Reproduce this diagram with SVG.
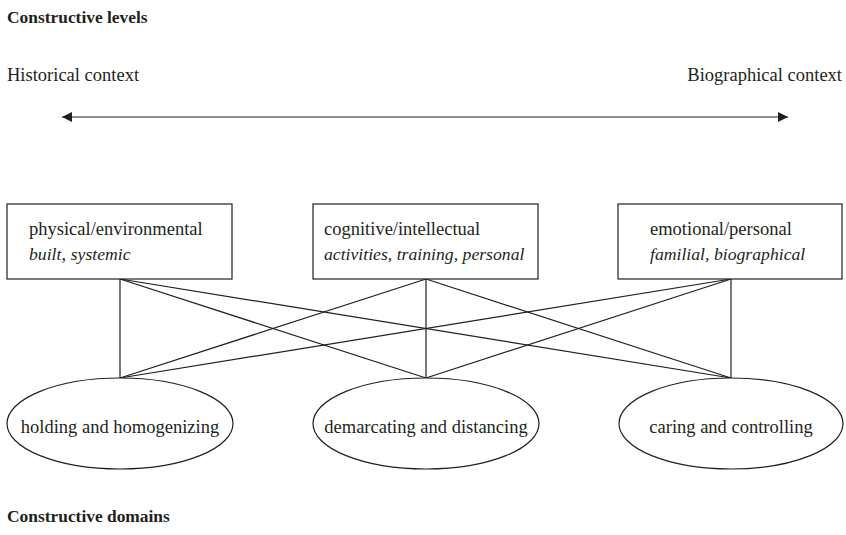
<svg xmlns="http://www.w3.org/2000/svg" width="846" height="535" viewBox="0 0 846 535">
<style>
text{font-family:"Liberation Serif","Times New Roman",serif;fill:#231f20;font-size:18.5px}
.b{font-weight:bold;font-size:17.4px}
.i{font-style:italic;font-size:17.7px}
.m{text-anchor:middle}
.shape{fill:#fff;stroke:#231f20;stroke-width:1.2}
.ln{stroke:#231f20;stroke-width:1.2;fill:none}
</style>
<defs>
<marker id="ah" viewBox="0 0 10 10" refX="10" refY="5" markerWidth="10" markerHeight="10" markerUnits="userSpaceOnUse" orient="auto-start-reverse">
<path d="M0,0 L10,5 L0,10 z" fill="#231f20"/>
</marker>
</defs>
<text class="b" x="7" y="23">Constructive levels</text>
<text x="7" y="81">Historical context</text>
<text x="842" y="81" text-anchor="end">Biographical context</text>
<g id="connectors">
<line class="ln" x1="62" y1="117" x2="788" y2="117" marker-start="url(#ah)" marker-end="url(#ah)"/>
<line class="ln" x1="120" y1="279" x2="120" y2="378"/>
<line class="ln" x1="120" y1="279" x2="426" y2="378"/>
<line class="ln" x1="120" y1="279" x2="731" y2="378"/>
<line class="ln" x1="426" y1="279" x2="120" y2="378"/>
<line class="ln" x1="426" y1="279" x2="426" y2="378"/>
<line class="ln" x1="426" y1="279" x2="731" y2="378"/>
<line class="ln" x1="731" y1="279" x2="120" y2="378"/>
<line class="ln" x1="731" y1="279" x2="426" y2="378"/>
<line class="ln" x1="731" y1="279" x2="731" y2="378"/>
</g>
<g id="level-physical">
<rect class="shape" x="7" y="204" width="225" height="75"/>
<text x="29" y="235">physical/environmental</text>
<text x="29" y="260"><tspan class="i">built</tspan>, <tspan class="i">systemic</tspan></text>
</g>
<g id="level-cognitive">
<rect class="shape" x="313" y="204" width="225" height="75"/>
<text x="324" y="235">cognitive/intellectual</text>
<text class="i" x="324" y="260">activities, training, personal</text>
</g>
<g id="level-emotional">
<rect class="shape" x="618" y="204" width="224" height="75"/>
<text x="650" y="235">emotional/personal</text>
<text class="i" x="650" y="260">familial, biographical</text>
</g>
<g id="domain-holding">
<ellipse class="shape" cx="120" cy="423.5" rx="113" ry="45.5"/>
<text class="m" x="120" y="433">holding and homogenizing</text>
</g>
<g id="domain-demarcating">
<ellipse class="shape" cx="426" cy="423.5" rx="113" ry="45.5"/>
<text class="m" x="426" y="433">demarcating and distancing</text>
</g>
<g id="domain-caring">
<ellipse class="shape" cx="731" cy="423.5" rx="112" ry="45.5"/>
<text class="m" x="731" y="433">caring and controlling</text>
</g>
<text class="b" x="7" y="522">Constructive domains</text>
</svg>
